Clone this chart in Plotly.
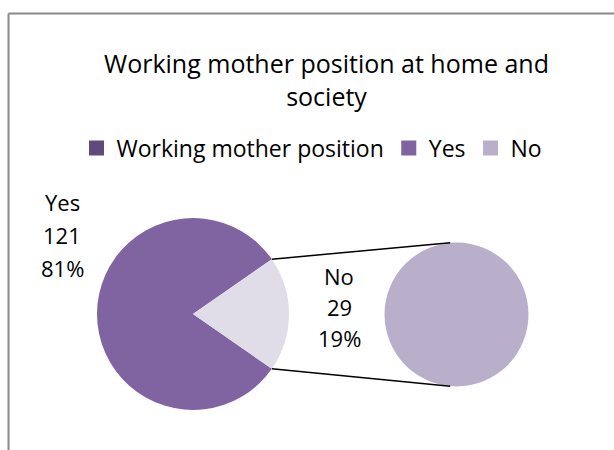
import math
import plotly.graph_objects as go

# ---- data ----
categories = ["Yes", "No"]
counts = [121, 29]
legend_names = ["Working mother position", "Yes", "No"]
title_text = "Working mother position at home and<br>society"

# ---- styling / layout constants ----
W, H = 614, 450
FONT = "Open Sans"
col_series = "#604A7B"
col_yes = "#8064A2"
col_no_main = "#E0DCE8"
col_no_second = "#B9AFCB"
legend_colors = [col_series, col_yes, col_no_second]

main_c, main_r = (193.0, 314.0), 96.0          # main pie centre / radius (px)
sec_c, sec_r = (456.5, 314.5), 72.0           # secondary pie centre / radius (px)

total = sum(counts)
pcts = [round(100 * v / total) for v in counts]
no_half_angle = 180.0 * counts[1] / total      # half of the "No" wedge, degrees


def px_domain(c, r):
    return dict(x=[(c[0] - r) / W, (c[0] + r) / W],
                y=[(H - c[1] - r) / H, (H - c[1] + r) / H])


def px_to_paper(x, y):
    return x / W, 1 - y / H


fig = go.Figure()

# main pie: "Yes" runs clockwise so that the "No" wedge is centred at 3 o'clock
fig.add_trace(go.Pie(
    labels=categories, values=counts, sort=False, direction="clockwise",
    rotation=90 + no_half_angle,
    marker=dict(colors=[col_yes, col_no_main], line=dict(width=0)),
    textinfo="none", hoverinfo="skip", showlegend=False,
    domain=px_domain(main_c, main_r),
))

# secondary pie holding the split-off "No" part
fig.add_trace(go.Pie(
    labels=[categories[1]], values=[counts[1]], sort=False,
    marker=dict(colors=[col_no_second], line=dict(width=0)),
    textinfo="none", hoverinfo="skip", showlegend=False,
    domain=px_domain(sec_c, sec_r),
))

# legend entries
for name, col in zip(legend_names, legend_colors):
    fig.add_trace(go.Scatter(
        x=[None], y=[None], mode="markers", name=name,
        marker=dict(symbol="square", size=15, color=col),
    ))

# connector lines between the wedge edges and the secondary pie
shapes = []
for sgn in (1, -1):
    a = math.radians(no_half_angle) * sgn
    x0 = main_c[0] + main_r * math.cos(a)
    y0 = main_c[1] - main_r * math.sin(a)
    b = math.radians(95) * sgn
    x1 = sec_c[0] + sec_r * math.cos(b)
    y1 = sec_c[1] - sec_r * math.sin(b)
    p0, p1 = px_to_paper(x0, y0), px_to_paper(x1, y1)
    shapes.append(dict(type="line", xref="paper", yref="paper",
                       x0=p0[0], y0=p0[1], x1=p1[0], y1=p1[1],
                       line=dict(color="black", width=1.5)))

# chart-area frame (top and left edges)
fx, fy = 8.5, 13.5
shapes.append(dict(type="line", xref="paper", yref="paper",
                   x0=fx / W, y0=1 - fy / H, x1=1, y1=1 - fy / H,
                   line=dict(color="#8A8A8A", width=2)))
shapes.append(dict(type="line", xref="paper", yref="paper",
                   x0=fx / W, y0=1 - fy / H, x1=fx / W, y1=0,
                   line=dict(color="#8A8A8A", width=2)))

# data labels: name / value / percent
annotations = []
label_pos = {"Yes": (62, [202, 235, 268]), "No": (339, [276, 307, 338])}
for cat, v, p in zip(categories, counts, pcts):
    cx, ys = label_pos[cat]
    for txt, yy in zip([cat, str(v), f"{p}%"], ys):
        px, py = px_to_paper(cx, yy)
        annotations.append(dict(text=txt, x=px, y=py, xref="paper", yref="paper",
                                xanchor="center", yanchor="middle", showarrow=False,
                                font=dict(family=FONT, size=22, color="black")))

fig.update_layout(
    width=W, height=H,
    margin=dict(l=0, r=0, t=0, b=0),
    paper_bgcolor="white", plot_bgcolor="white",
    title=dict(text=title_text, x=326.5 / W, xanchor="center",
               y=1 - 73 / H, yanchor="middle",
               font=dict(family=FONT, size=25, color="black")),
    legend=dict(orientation="h", x=312 / W, xanchor="center",
                y=1 - 148 / H, yanchor="middle",
                font=dict(family=FONT, size=23, color="black"),
                bgcolor="rgba(0,0,0,0)", itemclick=False, itemdoubleclick=False),
    xaxis=dict(visible=False), yaxis=dict(visible=False),
    shapes=shapes, annotations=annotations,
    hovermode=False,
)

fig.write_html("out.html")
